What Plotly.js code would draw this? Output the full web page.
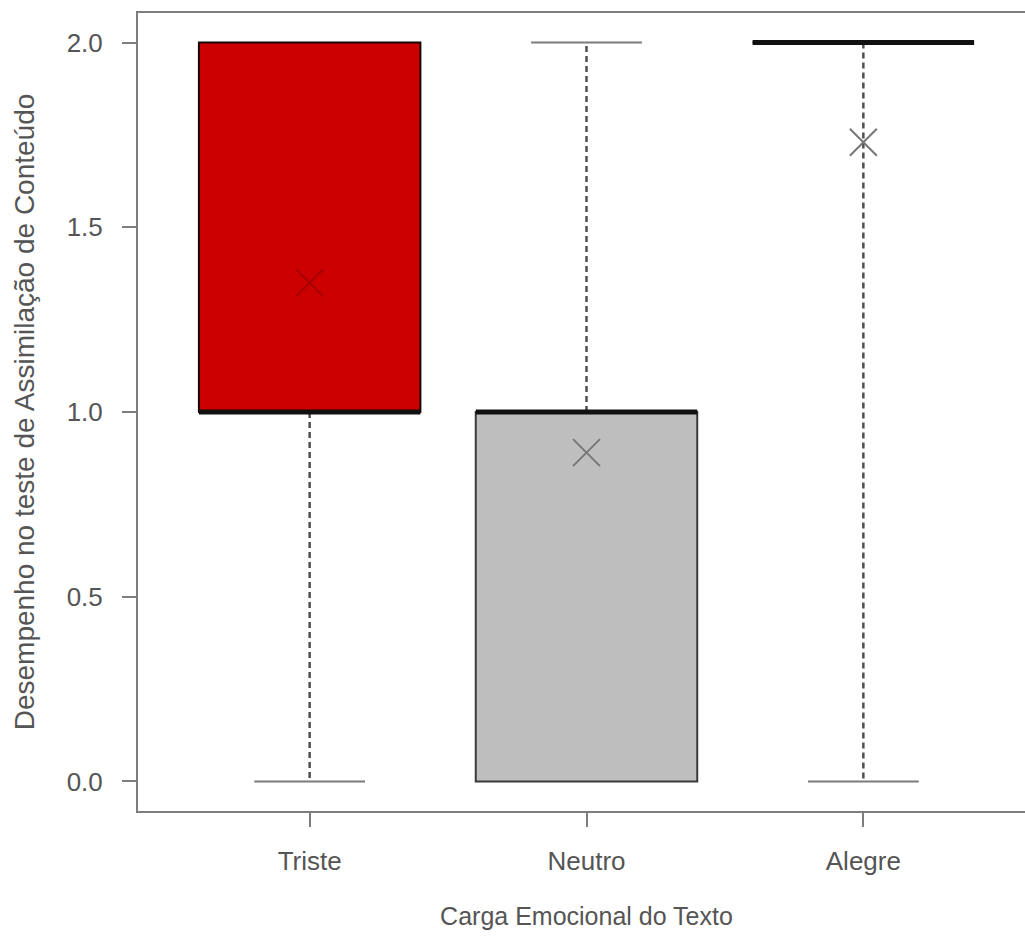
<!DOCTYPE html>
<html>
<head>
<meta charset="utf-8">
<script src="https://cdn.plot.ly/plotly-3.0.1.min.js"></script>
<style>
html, body { margin: 0; padding: 0; overflow: hidden; background: #ffffff; }
#chart { width: 1040px; height: 943px; }
</style>
</head>
<body>
<div id="chart"></div>
<script>
// ---- data ----
const categories = ['Triste', 'Neutro', 'Alegre'];
const positions = [1, 2, 3];
const q1 = [1.0, 0.0, 2.0];
const median = [1.0, 1.0, 2.0];
const q3 = [2.0, 1.0, 2.0];
const lowerWhisker = [0.0, 0.0, 0.0];
const upperWhisker = [2.0, 2.0, 2.0];
const means = [1.35, 0.89, 1.73];
const yTicks = [0.0, 0.5, 1.0, 1.5, 2.0];
const yTickLabels = ['0.0', '0.5', '1.0', '1.5', '2.0'];

// ---- styles ----
const boxFill = ['#cc0000', '#bebebe', '#ffffff'];
const boxLine = ['#1c0202', '#3a3a3a', '#111111'];
const meanColor = ['#a80000', '#777777', '#777777'];
const boxWidth = 0.8;
const capHalf = 0.2;
const fontFam = '"Liberation Sans", Arial, sans-serif';
const textColor = '#555555';
const axisColor = '#7e7e7e';

const traces = [];

// whiskers (dashed) and caps
const wx = [], wy = [];
const cx = [], cy = [];
positions.forEach((p, i) => {
  if (upperWhisker[i] > q3[i]) {
    wx.push(p, p, null); wy.push(q3[i], upperWhisker[i], null);
    cx.push(p - capHalf, p + capHalf, null); cy.push(upperWhisker[i], upperWhisker[i], null);
  }
  if (lowerWhisker[i] < q1[i]) {
    wx.push(p, p, null); wy.push(q1[i], lowerWhisker[i], null);
    cx.push(p - capHalf, p + capHalf, null); cy.push(lowerWhisker[i], lowerWhisker[i], null);
  }
});
traces.push({
  type: 'scatter', mode: 'lines', x: wx, y: wy, hoverinfo: 'skip', showlegend: false,
  line: { color: '#505050', width: 2.5, dash: '6px,4px' }
});
traces.push({
  type: 'scatter', mode: 'lines', x: cx, y: cy, hoverinfo: 'skip', showlegend: false,
  line: { color: '#7a7a7a', width: 2 }
});

// boxes
positions.forEach((p, i) => {
  traces.push({
    type: 'box', name: categories[i], x: [p],
    q1: [q1[i]], median: [median[i]], q3: [q3[i]],
    lowerfence: [q1[i]], upperfence: [q3[i]],
    width: boxWidth, whiskerwidth: 0, boxpoints: false,
    fillcolor: boxFill[i], line: { color: boxLine[i], width: 2 },
    showlegend: false, hoverinfo: 'skip'
  });
});

// medians (thick)
const mx = [], my = [];
positions.forEach((p, i) => {
  mx.push(p - boxWidth / 2, p + boxWidth / 2, null);
  my.push(median[i], median[i], null);
});
traces.push({
  type: 'scatter', mode: 'lines', x: mx, y: my, hoverinfo: 'skip', showlegend: false,
  line: { color: '#111111', width: 5 }
});

// means
traces.push({
  type: 'scatter', mode: 'markers', x: positions, y: means, showlegend: false,
  marker: { symbol: 'x-thin-open', size: 27, color: meanColor, line: { color: meanColor, width: 2 } }
});

const layout = {
  width: 1040, height: 943,
  margin: { l: 138, r: 5, t: 13, b: 132 },
  paper_bgcolor: '#ffffff', plot_bgcolor: '#ffffff',
  font: { family: fontFam, size: 26, color: textColor },
  showlegend: false,
  xaxis: {
    range: [0.38, 3.62], tickvals: positions, ticktext: categories,
    ticks: 'outside', ticklen: 14, tickwidth: 2, tickcolor: axisColor,
    showline: true, linecolor: axisColor, linewidth: 2, mirror: true,
    showgrid: false, zeroline: false, ticklabelstandoff: 12,
    tickfont: { family: fontFam, size: 26, color: textColor },
    title: { text: 'Carga Emocional do Texto', font: { family: fontFam, size: 25, color: textColor }, standoff: 32 }
  },
  yaxis: {
    range: [-0.08, 2.08], tickvals: yTicks, ticktext: yTickLabels,
    ticks: 'outside', ticklen: 14, tickwidth: 2, tickcolor: axisColor,
    showline: true, linecolor: axisColor, linewidth: 2, mirror: true,
    showgrid: false, zeroline: false, ticklabelstandoff: 14,
    tickfont: { family: fontFam, size: 26, color: textColor },
    title: { text: 'Desempenho no teste de Assimilação de Conteúdo', font: { family: fontFam, size: 28, color: textColor }, standoff: 24 }
  }
};

Plotly.newPlot('chart', traces, layout, { staticPlot: true, displayModeBar: false });
</script>
</body>
</html>
